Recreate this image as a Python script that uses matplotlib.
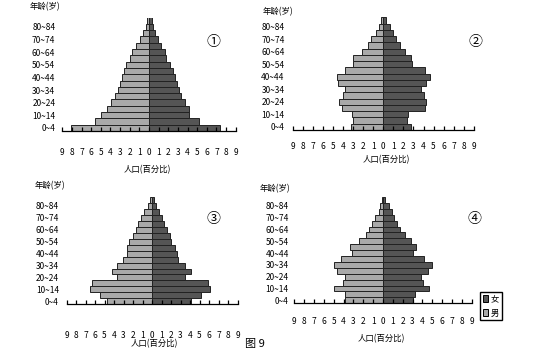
import matplotlib
matplotlib.use("Agg")
import matplotlib.pyplot as plt
from matplotlib.patches import Patch

plt.rcParams['font.family'] = ['Noto Sans CJK SC', 'DejaVu Sans']

# age groups 0-4 ... 85+, labels every 10 years
age_labels = ['0~4', '10~14', '20~24', '30~34', '40~44',
              '50~54', '60~64', '70~74', '80~84']
n_groups = 18
x_ticks = list(range(-9, 10))

# percentages (male on the left, female on the right)
male1 = [8.05, 5.6, 5.0, 4.4, 3.9, 3.55, 3.2, 3.0, 2.85, 2.6, 2.35, 2.0, 1.75, 1.4, 0.97, 0.62, 0.35, 0.17]
female1 = [7.4, 5.2, 4.2, 4.15, 3.7, 3.35, 3.08, 2.94, 2.66, 2.49, 2.15, 1.8, 1.63, 1.28, 0.93, 0.59, 0.42, 0.28]

male2 = [3.2, 3.05, 3.15, 4.15, 4.4, 4.0, 3.85, 4.5, 4.6, 3.85, 3.0, 3.0, 2.15, 1.5, 1.2, 0.75, 0.4, 0.2]
female2 = [2.75, 2.35, 2.45, 4.1, 4.2, 4.05, 3.8, 4.25, 4.6, 4.1, 2.9, 2.75, 2.15, 1.65, 1.3, 0.95, 0.7, 0.3]

male3 = [4.7, 5.47, 6.5, 6.35, 3.65, 4.25, 3.65, 3.02, 2.67, 2.67, 2.39, 2.04, 1.65, 1.5, 1.15, 0.85, 0.46, 0.2]
female3 = [4.1, 5.16, 6.1, 5.93, 3.5, 4.1, 3.5, 2.7, 2.6, 2.45, 2.05, 1.89, 1.54, 1.3, 1.1, 0.72, 0.45, 0.21]

male4 = [3.85, 3.9, 4.95, 4.1, 3.85, 4.7, 4.95, 4.3, 3.15, 3.4, 2.45, 1.75, 1.45, 1.1, 0.85, 0.45, 0.27, 0.1]
female4 = [3.05, 3.28, 4.7, 4.07, 3.9, 4.6, 4.93, 4.17, 3.05, 3.33, 2.8, 2.18, 1.75, 1.42, 1.08, 0.9, 0.57, 0.17]

marks = ['①', '②', '③', '④']

light = '#a9a9a9'
dark = '#555555'

W, H = 554, 362
fig = plt.figure(figsize=(W / 100, H / 100), dpi=100)

# pixel layout of each pyramid: x of -9, x of 9, axis line y, top y
boxes = [
    (62.3, 235.7, 131.0, 17.5),
    (293.0, 473.7, 130.0, 17.3),
    (66.5, 237.5, 304.3, 197.0),
    (294.4, 471.7, 303.3, 197.0),
]
tick_pads = [12, 8.5, 19.5, 10]
ylab_pads = [5, 6, 5.5, 4]
xlabel_pos = [(147, 170), (386, 160), (154, 344), (381, 339)]
ylabel_pos = [(45, 7), (278, 12), (50, 186), (275, 189)]
mark_pos = [(213, 42), (475, 42), (213, 219), (474, 219)]

data = [(male1, female1), (male2, female2), (male3, female3), (male4, female4)]

for i, (male, female) in enumerate(data):
    x0, x1, yb, yt = boxes[i]
    ax = fig.add_axes([x0 / W, 1 - yb / H, (x1 - x0) / W, (yb - yt) / H])
    y = list(range(n_groups))
    ax.barh(y, [-v for v in male], height=1, color=light, edgecolor='#222222', linewidth=0.7)
    ax.barh(y, female, height=1, color=dark, edgecolor='#222222', linewidth=0.7)
    ax.set_xlim(-9, 9)
    ax.set_ylim(-0.5, n_groups - 0.5)
    for s in ['top', 'right', 'left']:
        ax.spines[s].set_visible(False)
    ax.spines['bottom'].set_linewidth(0.9)
    ax.set_xticks(x_ticks)
    ax.set_xticklabels([str(abs(t)) for t in x_ticks], fontsize=6)
    ax.tick_params(axis='x', direction='in', length=3, width=0.9, pad=tick_pads[i])
    ax.set_yticks(list(range(0, 17, 2)))
    ax.set_yticklabels(age_labels, fontsize=6)
    ax.tick_params(axis='y', length=0, pad=ylab_pads[i])

    fig.text(xlabel_pos[i][0] / W, 1 - xlabel_pos[i][1] / H, '人口(百分比)',
             fontsize=6, ha='center', va='center')
    fig.text(ylabel_pos[i][0] / W, 1 - ylabel_pos[i][1] / H, '年龄(岁)',
             fontsize=6, ha='center', va='center')
    fig.text(mark_pos[i][0] / W, 1 - mark_pos[i][1] / H, marks[i],
             fontsize=10, ha='center', va='center')

fig.text(255 / W, 1 - 344 / H, '图 9', fontsize=8, ha='center', va='center')

handles = [Patch(facecolor=dark, edgecolor='black', linewidth=0.7),
           Patch(facecolor=light, edgecolor='black', linewidth=0.7)]
fig.legend(handles, ['女', '男'], loc='upper left',
           bbox_to_anchor=(480 / W, 1 - 292 / H), bbox_transform=fig.transFigure,
           fontsize=6, handlelength=0.7, handleheight=0.9, handletextpad=0.3,
           borderpad=0.3, labelspacing=0.6, borderaxespad=0,
           frameon=True, fancybox=False, edgecolor='black', framealpha=1)

fig.savefig('out.png', dpi=100)
